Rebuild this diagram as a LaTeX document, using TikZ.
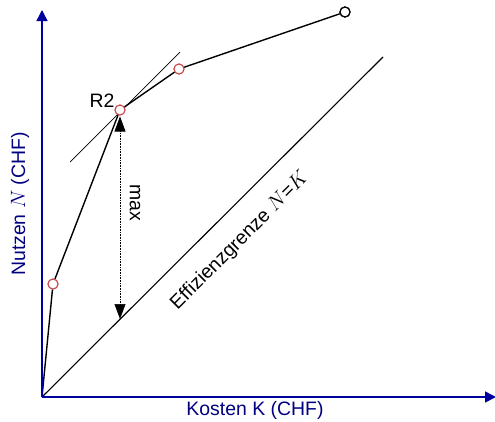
\documentclass[tikz,border=0pt]{standalone}
\usepackage{fontspec}
\setmainfont{Liberation Sans}
\usetikzlibrary{arrows.meta}
\definecolor{axisblue}{RGB}{0,0,160}
\definecolor{labelblue}{RGB}{0,0,128}
\definecolor{ptred}{RGB}{200,70,70}
\tikzset{
  axis/.style={draw=axisblue, line width=1.4bp, -{Triangle[length=11bp,width=11bp]}},
  curve/.style={line width=1.4bp, black},
  pt/.style={circle, draw=ptred, fill=white, line width=1bp, minimum size=10bp, inner sep=0pt},
  endpt/.style={circle, draw=black, fill=white, line width=1.2bp, minimum size=10bp, inner sep=0pt},
  lbl/.style={font=\fontsize{19.5}{21}\selectfont, inner sep=0pt},
}
\begin{document}
\begin{tikzpicture}[x=1bp,y=-1bp]
\useasboundingbox (0,0) rectangle (495,421);
\coordinate (O) at (42,397);
\coordinate (ytip) at (42,10);
\coordinate (xtip) at (496,397);
\coordinate (t1) at (70,162);
\coordinate (t2) at (180,52);
\coordinate (e2) at (383,57);
\coordinate (eff) at (120,319);
% efficiency frontier
\draw[line width=1.1bp] (O) -- (e2);
% tangent
\draw[line width=0.7bp] (t1) -- (t2);
% points
\node[pt] (p1) at (53,284) {};
\node[pt] (r2) at (120,110) {};
\node[pt] (p3) at (179,69) {};
\node[endpt] (p4) at (345,12) {};
\draw[curve] (O) -- (p1) -- (r2) -- (p3) -- (p4);
% redraw points on top
\node[pt] at (53,284) {};
\node[pt] at (120,110) {};
\node[pt] at (179,69) {};
\node[endpt] at (345,12) {};
% max arrow
\draw[line width=0.6bp, densely dotted, {Triangle[length=15bp,width=11bp]}-{Triangle[length=15bp,width=11bp]}, shorten <=1bp] (r2.south) -- (eff);
\node[lbl, rotate=-90] (maxl) at (135,203) {max};
% axes
\draw[axis] (O) -- (ytip);
\draw[axis] (O) -- (xtip);
% labels
\node[lbl] (r2l) at (102,101) {R2};
\node[lbl, rotate=45] (effl) at (240,241) {Effizienzgrenze $N$=$K$};
\node[lbl, text=labelblue, rotate=90] (yl) at (20,204) {Nutzen $N$ (CHF)};
\node[lbl, text=labelblue] (xl) at (255,410) {Kosten K (CHF)};
\end{tikzpicture}
\end{document}
